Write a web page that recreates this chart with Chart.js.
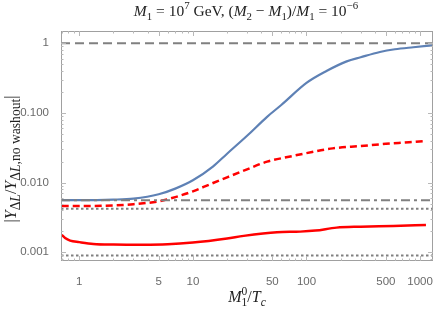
<!DOCTYPE html>
<html>
<head>
<meta charset="utf-8">
<script src="https://cdn.jsdelivr.net/npm/chart.js@4.4.1/dist/chart.umd.min.js"></script>
<style>
  html, body { margin: 0; padding: 0; background: #fff; }
  #wrap { width: 440px; height: 310px; }
</style>
</head>
<body>
<div id="wrap"><canvas id="chart"></canvas></div>
<script>
// values
const xBlue = [0.7, 1, 2, 3, 5, 7, 10, 15, 20, 30, 45, 60, 100, 150, 226, 300, 443, 600, 872, 1300];
const yBlue = [0.0056, 0.0056, 0.0057, 0.0059, 0.0068, 0.0082, 0.0108, 0.017, 0.026, 0.047, 0.088, 0.13, 0.27, 0.40, 0.55, 0.63, 0.75, 0.82, 0.877, 0.935];

const xRedDashed = [0.7, 1, 2, 3, 5, 7, 10, 14, 20, 30, 45, 70, 100, 170, 300, 500, 800, 1100];
const yRedDashed = [0.0046, 0.0046, 0.0047, 0.0049, 0.0054, 0.0062, 0.0075, 0.0094, 0.0119, 0.0155, 0.020, 0.0235, 0.0265, 0.031, 0.0335, 0.036, 0.038, 0.0396];

const xRedSolid = [0.7, 0.75, 0.83, 1, 1.33, 2, 3.66, 6, 10, 20, 28, 55, 88, 120, 184, 300, 581, 1127];
const yRedSolid = [0.00178, 0.0016, 0.00147, 0.0014, 0.00132, 0.00129, 0.00128, 0.0013, 0.00138, 0.00158, 0.00172, 0.00194, 0.00198, 0.00205, 0.00226, 0.00233, 0.00239, 0.00247];

// horizontal reference levels
const refDashed = 1;
const refDotDash = 0.0056;
const refDotted = [0.0042, 0.0009];

const xRange = [0.69, 1300];
const yRange = [0.00075, 1.5];
const xTicks = [1, 5, 10, 50, 100, 500, 1000];
const yTicks = [0.001, 0.01, 0.1, 1];
const yTickText = ['0.001', '0.010', '0.100', '1'];

const BLUE = '#5e81b5';
const RED = '#ff0000';
const GREY = '#808080';

const toPts = (xs, ys) => xs.map((x, i) => ({ x: x, y: ys[i] }));
const hLine = v => [{ x: xRange[0], y: v }, { x: xRange[1], y: v }];

function minorTicks(lo, hi) {
  const out = [];
  for (let e = Math.floor(Math.log10(lo)); e <= Math.ceil(Math.log10(hi)); e++) {
    for (let m = 1; m < 10; m++) {
      const v = m * Math.pow(10, e);
      if (v >= lo && v <= hi) out.push(v);
    }
  }
  return out;
}

// rich text (italics, sub/superscripts) for the math labels
function segFont(seg, size, r) {
  const s = (seg.sub || seg.sup || seg.stack) ? size * r : size;
  return (seg.i ? 'italic ' : '') + s + 'px "Liberation Serif", "DejaVu Serif", serif';
}
function segWidth(ctx, seg, size, r) {
  ctx.font = segFont(seg, size, r);
  if (seg.stack) {
    return Math.max(ctx.measureText(seg.stack[0]).width, ctx.measureText(seg.stack[1]).width);
  }
  return ctx.measureText(seg.t).width;
}
function drawRich(ctx, segs, cx, cy, size, r) {
  r = r || 0.7;
  let w = 0;
  segs.forEach(s => { w += segWidth(ctx, s, size, r); });
  let x = cx - w / 2;
  ctx.textBaseline = 'alphabetic';
  ctx.textAlign = 'left';
  segs.forEach(s => {
    const sw = segWidth(ctx, s, size, r);
    ctx.font = segFont(s, size, r);
    if (s.stack) {
      ctx.fillText(s.stack[0], x, cy + size * 0.28);
      ctx.fillText(s.stack[1], x, cy - size * 0.42);
    } else {
      const dy = s.sub ? size * 0.28 : (s.sup ? -size * 0.42 : 0);
      ctx.fillText(s.t, x, cy + dy);
    }
    x += sw;
  });
}

const titleSegs = [
  { t: 'M', i: 1 }, { t: '1', sub: 1 }, { t: ' = 10' }, { t: '7', sup: 1 }, { t: ' GeV, (' },
  { t: 'M', i: 1 }, { t: '2', sub: 1 }, { t: ' \u2212 ' }, { t: 'M', i: 1 }, { t: '1', sub: 1 },
  { t: ')/' }, { t: 'M', i: 1 }, { t: '1', sub: 1 }, { t: ' = 10' }, { t: '\u22126', sup: 1 }
];
const xTitleSegs = [
  { t: 'M', i: 1 }, { stack: ['1', '0'] }, { t: '/' }, { t: 'T', i: 1 }, { t: 'c', i: 1, sub: 1 }
];
const yTitleSegs = [
  { t: '|' }, { t: 'Y', i: 1 }, { t: '\u0394', sub: 1 }, { t: 'L', i: 1, sub: 1 }, { t: '/' },
  { t: 'Y', i: 1 }, { t: '\u0394', sub: 1 }, { t: 'L', i: 1, sub: 1 }, { t: ',no washout', sub: 1 }, { t: '|' }
];

const framePlugin = {
  id: 'frame',
  afterDatasetsDraw(chart) {
    const ctx = chart.ctx;
    const a = chart.chartArea;
    const xs = chart.scales.x, ys = chart.scales.y;
    ctx.save();
    ctx.strokeStyle = '#a0a0a0';
    ctx.lineWidth = 1;
    ctx.strokeRect(a.left + 0.5, a.top + 0.5, a.right - a.left - 1, a.bottom - a.top - 1);
    ctx.strokeStyle = '#b8b8b8';
    ctx.beginPath();
    minorTicks(xRange[0], xRange[1]).forEach(v => {
      const len = xTicks.includes(v) ? 5 : 2.5;
      const px = Math.round(xs.getPixelForValue(v)) + 0.5;
      ctx.moveTo(px, a.bottom); ctx.lineTo(px, a.bottom - len);
      ctx.moveTo(px, a.top); ctx.lineTo(px, a.top + len);
    });
    minorTicks(yRange[0], yRange[1]).forEach(v => {
      const len = yTicks.includes(v) ? 5 : 2.5;
      const py = Math.round(ys.getPixelForValue(v)) + 0.5;
      ctx.moveTo(a.left, py); ctx.lineTo(a.left + len, py);
      ctx.moveTo(a.right, py); ctx.lineTo(a.right - len, py);
    });
    ctx.stroke();
    ctx.restore();
  },
  afterDraw(chart) {
    const ctx = chart.ctx;
    const a = chart.chartArea;
    ctx.save();
    ctx.fillStyle = '#222';
    drawRich(ctx, titleSegs, 246, 16, 15.5, 0.7);
    drawRich(ctx, xTitleSegs, (a.left + a.right) / 2, 302, 16, 0.72);
    ctx.translate(16, 159);
    ctx.rotate(-Math.PI / 2);
    drawRich(ctx, yTitleSegs, 0, 0, 16, 0.85);
    ctx.restore();
  }
};

const lineDs = (label, pts, color, width, dash) => ({
  label: label,
  data: pts,
  showLine: true,
  borderColor: color,
  borderWidth: width,
  borderDash: dash || [],
  pointRadius: 0,
  fill: false,
  cubicInterpolationMode: 'monotone'
});

new Chart(document.getElementById('chart'), {
  type: 'scatter',
  data: {
    datasets: [
      lineDs('ref 1', hLine(refDashed), GREY, 2, [9, 5]),
      lineDs('ref dot-dash', hLine(refDotDash), GREY, 2, [9, 4, 3, 4]),
      lineDs('ref dotted a', hLine(refDotted[0]), GREY, 2, [2.5, 2.5]),
      lineDs('ref dotted b', hLine(refDotted[1]), GREY, 2, [2.5, 2.5]),
      lineDs('blue', toPts(xBlue, yBlue), BLUE, 2.2),
      lineDs('red dashed', toPts(xRedDashed, yRedDashed), RED, 2.5, [7, 4]),
      lineDs('red solid', toPts(xRedSolid, yRedSolid), RED, 2.5)
    ]
  },
  options: {
    responsive: true,
    maintainAspectRatio: false,
    animation: false,
    layout: { padding: { top: 31, right: 7, left: 0, bottom: 0 } },
    plugins: { legend: { display: false }, tooltip: { enabled: false }, title: { display: false } },
    scales: {
      x: {
        type: 'logarithmic',
        min: xRange[0],
        max: xRange[1],
        grid: { display: false },
        border: { display: false },
        afterBuildTicks: s => { s.ticks = xTicks.map(v => ({ value: v })); },
        afterFit: s => { s.height = 49; },
        ticks: {
          autoSkip: false,
          maxRotation: 0,
          padding: 6,
          color: '#6a6a6a',
          font: { family: '"Liberation Sans", Arial, sans-serif', size: 11.5 },
          callback: v => String(v)
        }
      },
      y: {
        type: 'logarithmic',
        min: yRange[0],
        max: yRange[1],
        grid: { display: false },
        border: { display: false },
        afterBuildTicks: s => { s.ticks = yTicks.map(v => ({ value: v })); },
        afterFit: s => { s.width = 61; },
        ticks: {
          autoSkip: false,
          padding: 4,
          color: '#6a6a6a',
          font: { family: '"Liberation Sans", Arial, sans-serif', size: 11.5 },
          callback: v => yTickText[yTicks.indexOf(v)] || ''
        }
      }
    }
  },
  plugins: [framePlugin]
});
</script>
</body>
</html>
